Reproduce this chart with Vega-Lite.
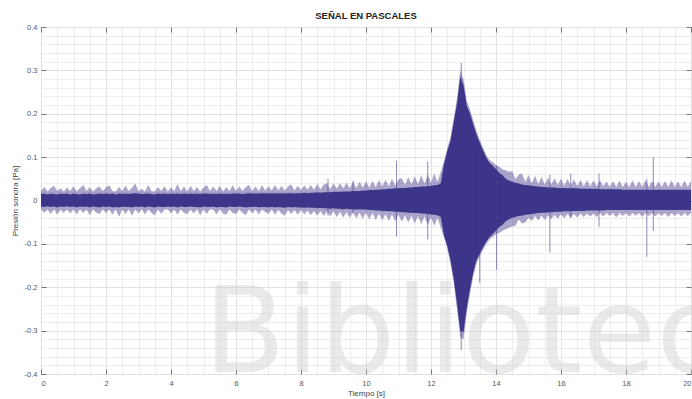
{
"$schema": "https://vega.github.io/schema/vega-lite/v6.json",
"width": 650, "height": 347,
"autosize": {"type": "none"},
"padding": {"left": 41, "top": 27, "right": 1, "bottom": 25},
"background": "white",
"title": {"text": "SEÑAL EN PASCALES", "fontSize": 9.5, "fontWeight": "bold", "font": "Liberation Sans", "color": "#222", "offset": 3, "anchor": "middle"},
"config": {"view": {"stroke": "#8a8a8a", "strokeWidth": 1}, "font": "Liberation Sans",
  "axis": {"labelFont": "Liberation Sans", "titleFont": "Liberation Sans", "labelFontSize": 7.5, "labelColor": "#555", "titleFontSize": 8, "titleFontWeight": "normal", "titleColor": "#444", "tickColor": "#777", "domain": false}},
"datasets": {
"s": [
{"t":0.0,"a":0.022,"b":-0.020,"c":0.015,"d":-0.014},
{"t":0.1,"a":0.031,"b":-0.029,"c":0.016,"d":-0.015},
{"t":0.2,"a":0.021,"b":-0.021,"c":0.014,"d":-0.013},
{"t":0.3,"a":0.029,"b":-0.031,"c":0.016,"d":-0.015},
{"t":0.4,"a":0.034,"b":-0.020,"c":0.015,"d":-0.014},
{"t":0.5,"a":0.022,"b":-0.033,"c":0.014,"d":-0.016},
{"t":0.6,"a":0.028,"b":-0.021,"c":0.016,"d":-0.014},
{"t":0.7,"a":0.021,"b":-0.028,"c":0.015,"d":-0.015},
{"t":0.8,"a":0.030,"b":-0.020,"c":0.016,"d":-0.013},
{"t":0.9,"a":0.022,"b":-0.030,"c":0.014,"d":-0.015},
{"t":1.0,"a":0.033,"b":-0.021,"c":0.016,"d":-0.014},
{"t":1.1,"a":0.021,"b":-0.032,"c":0.015,"d":-0.016},
{"t":1.2,"a":0.029,"b":-0.020,"c":0.014,"d":-0.014},
{"t":1.3,"a":0.036,"b":-0.029,"c":0.016,"d":-0.015},
{"t":1.4,"a":0.022,"b":-0.021,"c":0.015,"d":-0.014},
{"t":1.5,"a":0.031,"b":-0.034,"c":0.016,"d":-0.016},
{"t":1.6,"a":0.021,"b":-0.020,"c":0.014,"d":-0.014},
{"t":1.7,"a":0.028,"b":-0.028,"c":0.015,"d":-0.015},
{"t":1.8,"a":0.032,"b":-0.031,"c":0.016,"d":-0.016},
{"t":1.9,"a":0.022,"b":-0.020,"c":0.015,"d":-0.014},
{"t":2.0,"a":0.030,"b":-0.029,"c":0.016,"d":-0.015},
{"t":2.1,"a":0.035,"b":-0.021,"c":0.015,"d":-0.014},
{"t":2.2,"a":0.022,"b":-0.033,"c":0.016,"d":-0.016},
{"t":2.3,"a":0.021,"b":-0.020,"c":0.014,"d":-0.015},
{"t":2.4,"a":0.031,"b":-0.038,"c":0.016,"d":-0.016},
{"t":2.5,"a":0.022,"b":-0.021,"c":0.015,"d":-0.014},
{"t":2.6,"a":0.034,"b":-0.031,"c":0.016,"d":-0.015},
{"t":2.7,"a":0.022,"b":-0.020,"c":0.015,"d":-0.015},
{"t":2.8,"a":0.029,"b":-0.035,"c":0.016,"d":-0.016},
{"t":2.9,"a":0.040,"b":-0.021,"c":0.017,"d":-0.014},
{"t":3.0,"a":0.022,"b":-0.030,"c":0.016,"d":-0.015},
{"t":3.1,"a":0.027,"b":-0.020,"c":0.015,"d":-0.014},
{"t":3.2,"a":0.021,"b":-0.032,"c":0.016,"d":-0.016},
{"t":3.3,"a":0.036,"b":-0.021,"c":0.016,"d":-0.014},
{"t":3.4,"a":0.022,"b":-0.029,"c":0.015,"d":-0.015},
{"t":3.5,"a":0.021,"b":-0.034,"c":0.014,"d":-0.016},
{"t":3.6,"a":0.031,"b":-0.020,"c":0.016,"d":-0.014},
{"t":3.7,"a":0.022,"b":-0.031,"c":0.015,"d":-0.015},
{"t":3.8,"a":0.033,"b":-0.021,"c":0.016,"d":-0.015},
{"t":3.9,"a":0.021,"b":-0.020,"c":0.015,"d":-0.014},
{"t":4.0,"a":0.030,"b":-0.030,"c":0.016,"d":-0.015},
{"t":4.1,"a":0.022,"b":-0.021,"c":0.015,"d":-0.014},
{"t":4.2,"a":0.038,"b":-0.033,"c":0.016,"d":-0.016},
{"t":4.3,"a":0.022,"b":-0.020,"c":0.015,"d":-0.014},
{"t":4.4,"a":0.032,"b":-0.029,"c":0.016,"d":-0.015},
{"t":4.5,"a":0.021,"b":-0.031,"c":0.015,"d":-0.015},
{"t":4.6,"a":0.034,"b":-0.021,"c":0.016,"d":-0.014},
{"t":4.7,"a":0.022,"b":-0.030,"c":0.015,"d":-0.015},
{"t":4.8,"a":0.031,"b":-0.020,"c":0.016,"d":-0.015},
{"t":4.9,"a":0.021,"b":-0.034,"c":0.015,"d":-0.016},
{"t":5.0,"a":0.030,"b":-0.021,"c":0.016,"d":-0.014},
{"t":5.1,"a":0.036,"b":-0.031,"c":0.016,"d":-0.015},
{"t":5.2,"a":0.022,"b":-0.020,"c":0.015,"d":-0.015},
{"t":5.3,"a":0.032,"b":-0.021,"c":0.016,"d":-0.014},
{"t":5.4,"a":0.022,"b":-0.032,"c":0.015,"d":-0.016},
{"t":5.5,"a":0.034,"b":-0.020,"c":0.016,"d":-0.015},
{"t":5.6,"a":0.021,"b":-0.030,"c":0.015,"d":-0.015},
{"t":5.7,"a":0.031,"b":-0.033,"c":0.016,"d":-0.016},
{"t":5.8,"a":0.022,"b":-0.021,"c":0.015,"d":-0.014},
{"t":5.9,"a":0.035,"b":-0.029,"c":0.016,"d":-0.015},
{"t":6.0,"a":0.022,"b":-0.031,"c":0.016,"d":-0.015},
{"t":6.1,"a":0.033,"b":-0.021,"c":0.016,"d":-0.014},
{"t":6.2,"a":0.022,"b":-0.028,"c":0.015,"d":-0.015},
{"t":6.3,"a":0.031,"b":-0.034,"c":0.016,"d":-0.016},
{"t":6.4,"a":0.036,"b":-0.021,"c":0.017,"d":-0.015},
{"t":6.5,"a":0.022,"b":-0.030,"c":0.016,"d":-0.015},
{"t":6.6,"a":0.032,"b":-0.021,"c":0.016,"d":-0.014},
{"t":6.7,"a":0.022,"b":-0.032,"c":0.016,"d":-0.016},
{"t":6.8,"a":0.035,"b":-0.021,"c":0.017,"d":-0.015},
{"t":6.9,"a":0.023,"b":-0.027,"c":0.016,"d":-0.015},
{"t":7.0,"a":0.033,"b":-0.031,"c":0.017,"d":-0.016},
{"t":7.1,"a":0.023,"b":-0.021,"c":0.016,"d":-0.015},
{"t":7.2,"a":0.036,"b":-0.033,"c":0.017,"d":-0.016},
{"t":7.3,"a":0.023,"b":-0.022,"c":0.016,"d":-0.015},
{"t":7.4,"a":0.034,"b":-0.030,"c":0.017,"d":-0.016},
{"t":7.5,"a":0.023,"b":-0.035,"c":0.016,"d":-0.017},
{"t":7.6,"a":0.032,"b":-0.022,"c":0.017,"d":-0.015},
{"t":7.7,"a":0.037,"b":-0.031,"c":0.017,"d":-0.016},
{"t":7.8,"a":0.023,"b":-0.022,"c":0.016,"d":-0.015},
{"t":7.9,"a":0.034,"b":-0.033,"c":0.017,"d":-0.016},
{"t":8.0,"a":0.024,"b":-0.022,"c":0.017,"d":-0.016},
{"t":8.1,"a":0.035,"b":-0.032,"c":0.018,"d":-0.017},
{"t":8.2,"a":0.025,"b":-0.023,"c":0.017,"d":-0.016},
{"t":8.3,"a":0.036,"b":-0.034,"c":0.018,"d":-0.017},
{"t":8.4,"a":0.025,"b":-0.024,"c":0.018,"d":-0.017},
{"t":8.5,"a":0.038,"b":-0.035,"c":0.019,"d":-0.018},
{"t":8.6,"a":0.026,"b":-0.024,"c":0.018,"d":-0.017},
{"t":8.7,"a":0.037,"b":-0.036,"c":0.019,"d":-0.018},
{"t":8.8,"a":0.040,"b":-0.025,"c":0.019,"d":-0.018},
{"t":8.9,"a":0.026,"b":-0.037,"c":0.019,"d":-0.019},
{"t":9.0,"a":0.039,"b":-0.025,"c":0.020,"d":-0.018},
{"t":9.1,"a":0.027,"b":-0.038,"c":0.020,"d":-0.019},
{"t":9.2,"a":0.040,"b":-0.026,"c":0.020,"d":-0.019},
{"t":9.3,"a":0.028,"b":-0.039,"c":0.021,"d":-0.020},
{"t":9.4,"a":0.041,"b":-0.027,"c":0.021,"d":-0.019},
{"t":9.5,"a":0.028,"b":-0.040,"c":0.021,"d":-0.020},
{"t":9.6,"a":0.043,"b":-0.027,"c":0.022,"d":-0.020},
{"t":9.7,"a":0.029,"b":-0.041,"c":0.022,"d":-0.021},
{"t":9.8,"a":0.043,"b":-0.028,"c":0.022,"d":-0.020},
{"t":9.9,"a":0.030,"b":-0.042,"c":0.023,"d":-0.021},
{"t":10.0,"a":0.044,"b":-0.028,"c":0.023,"d":-0.021},
{"t":10.1,"a":0.030,"b":-0.043,"c":0.024,"d":-0.022},
{"t":10.2,"a":0.045,"b":-0.029,"c":0.024,"d":-0.022},
{"t":10.3,"a":0.031,"b":-0.045,"c":0.025,"d":-0.023},
{"t":10.4,"a":0.047,"b":-0.030,"c":0.025,"d":-0.023},
{"t":10.5,"a":0.032,"b":-0.046,"c":0.026,"d":-0.024},
{"t":10.6,"a":0.048,"b":-0.031,"c":0.026,"d":-0.024},
{"t":10.7,"a":0.033,"b":-0.047,"c":0.027,"d":-0.025},
{"t":10.8,"a":0.050,"b":-0.032,"c":0.027,"d":-0.025},
{"t":10.9,"a":0.034,"b":-0.048,"c":0.028,"d":-0.026},
{"t":11.0,"a":0.049,"b":-0.033,"c":0.028,"d":-0.026},
{"t":11.1,"a":0.052,"b":-0.049,"c":0.029,"d":-0.027},
{"t":11.2,"a":0.036,"b":-0.034,"c":0.029,"d":-0.027},
{"t":11.3,"a":0.054,"b":-0.051,"c":0.030,"d":-0.028},
{"t":11.4,"a":0.037,"b":-0.035,"c":0.030,"d":-0.028},
{"t":11.5,"a":0.056,"b":-0.053,"c":0.031,"d":-0.029},
{"t":11.6,"a":0.038,"b":-0.036,"c":0.031,"d":-0.029},
{"t":11.7,"a":0.058,"b":-0.055,"c":0.032,"d":-0.030},
{"t":11.8,"a":0.039,"b":-0.037,"c":0.032,"d":-0.030},
{"t":11.9,"a":0.060,"b":-0.057,"c":0.033,"d":-0.031},
{"t":12.0,"a":0.041,"b":-0.039,"c":0.034,"d":-0.032},
{"t":12.1,"a":0.062,"b":-0.058,"c":0.035,"d":-0.033},
{"t":12.2,"a":0.043,"b":-0.040,"c":0.036,"d":-0.034},
{"t":12.3,"a":0.065,"b":-0.062,"c":0.040,"d":-0.038},
{"t":12.4,"a":0.090,"b":-0.085,"c":0.085,"d":-0.081},
{"t":12.5,"a":0.120,"b":-0.110,"c":0.114,"d":-0.105},
{"t":12.6,"a":0.145,"b":-0.145,"c":0.138,"d":-0.138},
{"t":12.7,"a":0.190,"b":-0.190,"c":0.181,"d":-0.181},
{"t":12.8,"a":0.235,"b":-0.250,"c":0.223,"d":-0.238},
{"t":12.9,"a":0.300,"b":-0.315,"c":0.285,"d":-0.300},
{"t":13.0,"a":0.280,"b":-0.320,"c":0.266,"d":-0.304},
{"t":13.1,"a":0.230,"b":-0.260,"c":0.219,"d":-0.247},
{"t":13.2,"a":0.210,"b":-0.215,"c":0.200,"d":-0.204},
{"t":13.3,"a":0.185,"b":-0.175,"c":0.176,"d":-0.166},
{"t":13.4,"a":0.160,"b":-0.145,"c":0.152,"d":-0.138},
{"t":13.5,"a":0.140,"b":-0.128,"c":0.133,"d":-0.122},
{"t":13.6,"a":0.122,"b":-0.114,"c":0.116,"d":-0.108},
{"t":13.7,"a":0.105,"b":-0.100,"c":0.099,"d":-0.095},
{"t":13.8,"a":0.093,"b":-0.090,"c":0.087,"d":-0.084},
{"t":13.9,"a":0.088,"b":-0.084,"c":0.080,"d":-0.077},
{"t":14.0,"a":0.082,"b":-0.078,"c":0.072,"d":-0.069},
{"t":14.1,"a":0.078,"b":-0.075,"c":0.064,"d":-0.061},
{"t":14.2,"a":0.072,"b":-0.070,"c":0.058,"d":-0.056},
{"t":14.3,"a":0.070,"b":-0.066,"c":0.050,"d":-0.048},
{"t":14.4,"a":0.066,"b":-0.063,"c":0.046,"d":-0.043},
{"t":14.5,"a":0.068,"b":-0.060,"c":0.043,"d":-0.040},
{"t":14.6,"a":0.049,"b":-0.058,"c":0.041,"d":-0.038},
{"t":14.7,"a":0.060,"b":-0.044,"c":0.039,"d":-0.036},
{"t":14.8,"a":0.062,"b":-0.053,"c":0.037,"d":-0.035},
{"t":14.9,"a":0.043,"b":-0.051,"c":0.036,"d":-0.033},
{"t":15.0,"a":0.059,"b":-0.040,"c":0.035,"d":-0.032},
{"t":15.1,"a":0.040,"b":-0.047,"c":0.034,"d":-0.031},
{"t":15.2,"a":0.057,"b":-0.036,"c":0.033,"d":-0.030},
{"t":15.3,"a":0.038,"b":-0.046,"c":0.032,"d":-0.029},
{"t":15.4,"a":0.055,"b":-0.035,"c":0.031,"d":-0.028},
{"t":15.5,"a":0.037,"b":-0.045,"c":0.031,"d":-0.028},
{"t":15.6,"a":0.053,"b":-0.034,"c":0.030,"d":-0.027},
{"t":15.7,"a":0.036,"b":-0.043,"c":0.030,"d":-0.027},
{"t":15.8,"a":0.052,"b":-0.033,"c":0.030,"d":-0.026},
{"t":15.9,"a":0.035,"b":-0.042,"c":0.029,"d":-0.026},
{"t":16.0,"a":0.051,"b":-0.032,"c":0.029,"d":-0.026},
{"t":16.1,"a":0.034,"b":-0.041,"c":0.029,"d":-0.025},
{"t":16.2,"a":0.050,"b":-0.031,"c":0.028,"d":-0.025},
{"t":16.3,"a":0.034,"b":-0.040,"c":0.028,"d":-0.025},
{"t":16.4,"a":0.049,"b":-0.031,"c":0.028,"d":-0.024},
{"t":16.5,"a":0.033,"b":-0.039,"c":0.028,"d":-0.024},
{"t":16.6,"a":0.048,"b":-0.030,"c":0.027,"d":-0.024},
{"t":16.7,"a":0.033,"b":-0.038,"c":0.027,"d":-0.024},
{"t":16.8,"a":0.047,"b":-0.030,"c":0.027,"d":-0.023},
{"t":16.9,"a":0.033,"b":-0.037,"c":0.027,"d":-0.023},
{"t":17.0,"a":0.046,"b":-0.030,"c":0.027,"d":-0.023},
{"t":17.1,"a":0.032,"b":-0.038,"c":0.027,"d":-0.023},
{"t":17.2,"a":0.047,"b":-0.029,"c":0.026,"d":-0.023},
{"t":17.3,"a":0.032,"b":-0.037,"c":0.026,"d":-0.023},
{"t":17.4,"a":0.044,"b":-0.029,"c":0.026,"d":-0.022},
{"t":17.5,"a":0.031,"b":-0.036,"c":0.026,"d":-0.022},
{"t":17.6,"a":0.045,"b":-0.029,"c":0.026,"d":-0.022},
{"t":17.7,"a":0.031,"b":-0.039,"c":0.026,"d":-0.022},
{"t":17.8,"a":0.046,"b":-0.029,"c":0.026,"d":-0.022},
{"t":17.9,"a":0.031,"b":-0.036,"c":0.025,"d":-0.022},
{"t":18.0,"a":0.043,"b":-0.029,"c":0.025,"d":-0.022},
{"t":18.1,"a":0.031,"b":-0.037,"c":0.025,"d":-0.022},
{"t":18.2,"a":0.046,"b":-0.029,"c":0.025,"d":-0.022},
{"t":18.3,"a":0.031,"b":-0.035,"c":0.025,"d":-0.022},
{"t":18.4,"a":0.045,"b":-0.029,"c":0.025,"d":-0.022},
{"t":18.5,"a":0.031,"b":-0.038,"c":0.025,"d":-0.022},
{"t":18.6,"a":0.047,"b":-0.029,"c":0.025,"d":-0.022},
{"t":18.7,"a":0.031,"b":-0.036,"c":0.025,"d":-0.022},
{"t":18.8,"a":0.045,"b":-0.029,"c":0.025,"d":-0.022},
{"t":18.9,"a":0.031,"b":-0.037,"c":0.025,"d":-0.022},
{"t":19.0,"a":0.044,"b":-0.029,"c":0.025,"d":-0.022},
{"t":19.1,"a":0.031,"b":-0.036,"c":0.025,"d":-0.022},
{"t":19.2,"a":0.045,"b":-0.029,"c":0.025,"d":-0.022},
{"t":19.3,"a":0.031,"b":-0.038,"c":0.025,"d":-0.022},
{"t":19.4,"a":0.046,"b":-0.029,"c":0.025,"d":-0.022},
{"t":19.5,"a":0.031,"b":-0.036,"c":0.025,"d":-0.022},
{"t":19.6,"a":0.044,"b":-0.029,"c":0.025,"d":-0.022},
{"t":19.7,"a":0.031,"b":-0.037,"c":0.025,"d":-0.022},
{"t":19.8,"a":0.046,"b":-0.029,"c":0.025,"d":-0.022},
{"t":19.9,"a":0.031,"b":-0.036,"c":0.025,"d":-0.022},
{"t":20.0,"a":0.045,"b":-0.029,"c":0.025,"d":-0.022}
],
"k": [
{"t":8.83,"top":0.05,"bot":-0.035},
{"t":9.6,"top":0.046,"bot":-0.03},
{"t":10.94,"top":0.092,"bot":-0.083},
{"t":11.9,"top":0.09,"bot":-0.09},
{"t":12.93,"top":0.317,"bot":-0.345},
{"t":13.5,"top":0.12,"bot":-0.19},
{"t":14.02,"top":0.08,"bot":-0.16},
{"t":15.66,"top":0.059,"bot":-0.12},
{"t":16.3,"top":0.062,"bot":-0.04},
{"t":17.17,"top":0.062,"bot":-0.06},
{"t":18.64,"top":0.05,"bot":-0.13},
{"t":18.84,"top":0.1,"bot":-0.07}
],
"w": [{"label": "Biblioteca"}]
},
"layer": [
{"data": {"name": "s"},
 "mark": {"type": "area", "color": "#423a8c", "opacity": 0.45},
 "encoding": {
  "x": {"field": "t", "type": "quantitative", "scale": {"domain": [0, 20], "nice": false, "zero": false},
        "axis": {"orient": "bottom", "values": [0,0.5,1,1.5,2,2.5,3,3.5,4,4.5,5,5.5,6,6.5,7,7.5,8,8.5,9,9.5,10,10.5,11,11.5,12,12.5,13,13.5,14,14.5,15,15.5,16,16.5,17,17.5,18,18.5,19,19.5,20], "grid": true, "gridColor": "#ededed", "labels": false, "ticks": false, "domain": false, "title": null}},
  "y": {"field": "a", "type": "quantitative", "scale": {"domain": [-0.4, 0.4], "nice": false, "zero": false},
        "axis": {"orient": "left", "values": [-0.4,-0.38,-0.36,-0.34,-0.32,-0.3,-0.28,-0.26,-0.24,-0.22,-0.2,-0.18,-0.16,-0.14,-0.12,-0.1,-0.08,-0.06,-0.04,-0.02,0,0.02,0.04,0.06,0.08,0.1,0.12,0.14,0.16,0.18,0.2,0.22,0.24,0.26,0.28,0.3,0.32,0.34,0.36,0.38,0.4], "grid": true, "gridColor": "#ededed", "labels": false, "ticks": false, "domain": false, "title": null}},
  "y2": {"field": "b"}
 }},
{"data": {"name": "s"},
 "mark": {"type": "area", "color": "#3d3589", "opacity": 1},
 "encoding": {
  "x": {"field": "t", "type": "quantitative",
        "axis": {"orient": "bottom", "values": [0,2,4,6,8,10,12,14,16,18,20], "format": "d", "grid": true, "gridColor": "#e0e0e0", "ticks": true, "tickSize": -5, "labelPadding": 10, "title": "Tiempo [s]", "titlePadding": 3}},
  "y": {"field": "c", "type": "quantitative",
        "axis": {"orient": "left", "values": [-0.4,-0.3,-0.2,-0.1,0,0.1,0.2,0.3,0.4], "labelExpr": "datum.value == 0 ? '0' : (datum.value < 0 ? '-' : '') + format(abs(datum.value), '.1f')", "grid": true, "gridColor": "#e0e0e0", "ticks": true, "tickSize": -5, "labelPadding": 9, "title": "Presión sonora [Pa]", "titlePadding": 5}},
  "y2": {"field": "d"}
 }},
{"data": {"name": "k"},
 "mark": {"type": "rule", "color": "#423a8c", "opacity": 0.6, "strokeWidth": 1},
 "encoding": {
  "x": {"field": "t", "type": "quantitative",
        "axis": {"orient": "top", "values": [0,2,4,6,8,10,12,14,16,18,20], "labels": false, "grid": false, "ticks": true, "tickSize": -5, "title": null}},
  "y": {"field": "top", "type": "quantitative",
        "axis": {"orient": "right", "values": [-0.4,-0.3,-0.2,-0.1,0,0.1,0.2,0.3,0.4], "labels": false, "grid": false, "ticks": true, "tickSize": -5, "title": null}},
  "y2": {"field": "bot"}
 }},
{"data": {"name": "w"},
 "mark": {"type": "text", "align": "left", "baseline": "alphabetic", "fontSize": 120, "font": "DejaVu Sans", "color": "#cdcdcd", "opacity": 0.4, "clip": false},
 "encoding": {
  "text": {"field": "label"},
  "x": {"datum": 5.0, "type": "quantitative", "axis": null},
  "y": {"datum": -0.395, "type": "quantitative", "axis": null}
 }}
],
"resolve": {"axis": {"x": "independent", "y": "independent"}}
}
